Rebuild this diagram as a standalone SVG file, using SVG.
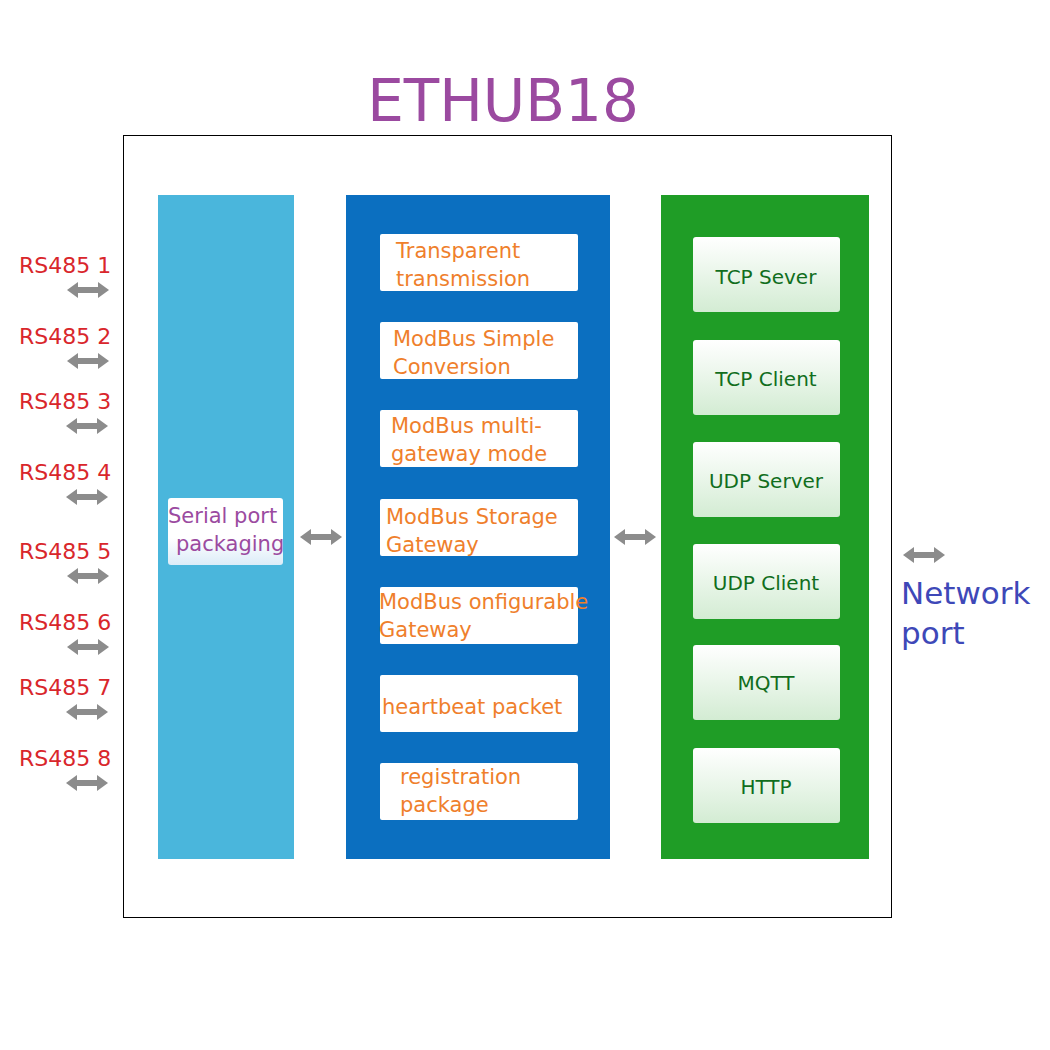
<svg xmlns="http://www.w3.org/2000/svg" xmlns:xlink="http://www.w3.org/1999/xlink" width="1050" height="1050" viewBox="0 0 1050 1050">
<style>
text{font-family:Verdana,"DejaVu Sans",sans-serif}
.rs{fill:#d9262b;font-size:22px}
.mid{fill:#ef7f2c;font-size:21px}
.grn{fill:#116e1d;font-size:20px;text-anchor:middle}
.mbox{fill:#ffffff}
</style>
<defs>
<path id="arr" d="M0,0 L11,-8 L11,-3 L31,-3 L31,-8 L42,0 L31,8 L31,3 L11,3 L11,8 Z" fill="#8c8c8c"/>
<linearGradient id="gg" x1="0" y1="0" x2="0" y2="1"><stop offset="0" stop-color="#ffffff"/><stop offset="1" stop-color="#d3ecd3"/></linearGradient>
<linearGradient id="bg" x1="0" y1="0" x2="0" y2="1"><stop offset="0.6" stop-color="#ffffff"/><stop offset="1" stop-color="#dcecf8"/></linearGradient>
</defs>
<rect width="1050" height="1050" fill="#fff"/>
<text x="503" y="121" font-size="58" fill="#9b4aa0" text-anchor="middle">ETHUB18</text>
<rect x="123.5" y="135.5" width="768" height="782" fill="none" stroke="#000" stroke-width="1"/>
<g id="col1"><rect x="158" y="195" width="136" height="664" fill="#4ab6dc"/>
<g id="serial"><rect x="168" y="498" width="115" height="67" rx="3" fill="url(#bg)"/>
<text x="168" y="523" font-size="21" fill="#9b4aa0">Serial port</text><text x="176" y="551" font-size="21" fill="#9b4aa0">packaging</text></g></g>
<g id="col2"><rect x="346" y="195" width="264" height="664" fill="#0b6fc0"/>
<g id="m1"><rect class="mbox" x="380" y="234" width="198" height="57" rx="2"/><text class="mid" x="396" y="258">Transparent</text><text class="mid" x="396" y="286">transmission</text></g>
<g id="m2"><rect class="mbox" x="380" y="322" width="198" height="57" rx="2"/><text class="mid" x="393" y="346">ModBus Simple</text><text class="mid" x="393" y="374">Conversion</text></g>
<g id="m3"><rect class="mbox" x="380" y="410" width="198" height="57" rx="2"/><text class="mid" x="391" y="433">ModBus multi-</text><text class="mid" x="391" y="461">gateway mode</text></g>
<g id="m4"><rect class="mbox" x="380" y="499" width="198" height="57" rx="2"/><text class="mid" x="386" y="524">ModBus Storage</text><text class="mid" x="386" y="552">Gateway</text></g>
<g id="m5"><rect class="mbox" x="380" y="587" width="198" height="57" rx="2"/><text class="mid" x="379" y="609">ModBus onfigurable</text><text class="mid" x="379" y="637">Gateway</text></g>
<g id="m6"><rect class="mbox" x="380" y="675" width="198" height="57" rx="2"/><text class="mid" x="382" y="714">heartbeat packet</text></g>
<g id="m7"><rect class="mbox" x="380" y="763" width="198" height="57" rx="2"/><text class="mid" x="400" y="784">registration</text><text class="mid" x="400" y="812">package</text></g></g>
<g id="col3"><rect x="661" y="195" width="208" height="664" fill="#1f9d26"/>
<g id="g1"><rect x="693" y="237" width="147" height="75" rx="3" fill="url(#gg)"/><text class="grn" x="766" y="284">TCP  Sever</text></g>
<g id="g2"><rect x="693" y="340" width="147" height="75" rx="3" fill="url(#gg)"/><text class="grn" x="766" y="386">TCP  Client</text></g>
<g id="g3"><rect x="693" y="442" width="147" height="75" rx="3" fill="url(#gg)"/><text class="grn" x="766" y="488">UDP Server</text></g>
<g id="g4"><rect x="693" y="544" width="147" height="75" rx="3" fill="url(#gg)"/><text class="grn" x="766" y="590">UDP Client</text></g>
<g id="g5"><rect x="693" y="645" width="147" height="75" rx="3" fill="url(#gg)"/><text class="grn" x="766" y="690">MQTT</text></g>
<g id="g6"><rect x="693" y="748" width="147" height="75" rx="3" fill="url(#gg)"/><text class="grn" x="766" y="794">HTTP</text></g></g>
<g id="labels">
<text class="rs" x="19" y="273">RS485 1</text><text class="rs" x="19" y="344">RS485 2</text>
<text class="rs" x="19" y="409">RS485 3</text><text class="rs" x="19" y="480">RS485 4</text>
<text class="rs" x="19" y="559">RS485 5</text><text class="rs" x="19" y="630">RS485 6</text>
<text class="rs" x="19" y="695">RS485 7</text><text class="rs" x="19" y="766">RS485 8</text>
<text x="901" y="604" font-size="31" fill="#3e48b8">Network</text><text x="901" y="644" font-size="31" fill="#3e48b8">port</text>
</g>
<g id="connectors">
<use xlink:href="#arr" x="67" y="290"/><use xlink:href="#arr" x="67" y="361"/>
<use xlink:href="#arr" x="66" y="426"/><use xlink:href="#arr" x="66" y="497"/>
<use xlink:href="#arr" x="67" y="576"/><use xlink:href="#arr" x="67" y="647"/>
<use xlink:href="#arr" x="66" y="712"/><use xlink:href="#arr" x="66" y="783"/>
<use xlink:href="#arr" x="300" y="537"/><use xlink:href="#arr" x="614" y="537"/>
<use xlink:href="#arr" x="903" y="555"/>
</g>
</svg>
